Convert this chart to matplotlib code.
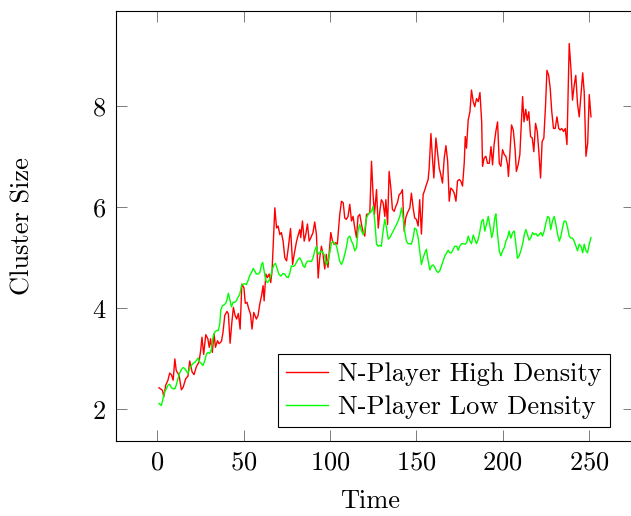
import matplotlib
matplotlib.use("Agg")
import matplotlib.pyplot as plt

plt.rcParams['font.family'] = ['cmr10', 'DejaVu Sans']
plt.rcParams['axes.formatter.use_mathtext'] = True
plt.rcParams['mathtext.fontset'] = 'cm'

# N-Player High Density (red)
high_t = [0.9, 2.9, 3.7, 4.8, 6.1, 7.1, 8.1, 9.1, 10.1, 10.9, 12.5, 13.9, 14.9, 16.4, 17.7, 18.7, 20.1, 21.2, 22.6, 24.1,
          25.1, 25.8, 26.8, 28.0, 29.2, 30.0, 30.8, 31.8, 32.8, 33.6, 34.8, 35.7, 37.1, 38.0, 39.0, 40.3, 41.1, 42.1, 43.1, 44.0,
          45.0, 45.9, 46.9, 47.9, 48.9, 50.1, 50.9, 51.9, 52.9, 53.9, 54.8, 55.8,
          57.3, 58.3, 59.3, 60.3, 61.2, 61.8, 62.8, 63.7, 64.7, 65.6, 66.4, 68.0, 69.0, 69.9, 70.9, 71.8, 72.8, 73.8, 74.8, 75.8,
          77.1, 78.3, 79.2, 80.6, 81.6, 82.5, 83.0, 84.0, 85.0, 85.9, 86.9, 87.9, 88.9, 90.1, 91.1, 92.1, 93.1, 94.0, 95.0, 95.9,
          96.9, 97.8, 98.8, 100.4, 101.4, 102.3, 103.2, 104.2, 105.6, 106.6, 107.6, 108.5, 109.4, 110.4, 111.4, 112.4, 113.3, 114.3,
          115.3, 116.2,
          117.2, 118.2, 119.2, 120.1, 121.1, 122.1, 123.0, 124.0, 124.9, 125.7, 126.9, 127.9, 128.8, 129.7, 130.7, 131.7, 132.3,
          133.3, 134.2, 135.2, 136.1, 137.1, 138.1, 139.0, 140.0, 141.0, 141.9, 142.9, 143.8, 144.8, 146.2, 147.1, 148.1, 149.0,
          150.0, 151.0, 151.9, 152.9, 153.9, 154.9, 155.8, 156.8, 157.4, 158.4, 159.3, 160.1, 161.3, 162.2, 163.2, 164.1, 165.1,
          166.1, 167.1, 168.1, 169.0, 169.9, 170.9, 171.9, 172.9, 173.8, 174.8, 175.7, 176.7, 177.7, 178.3, 179.0, 180.0,
          181.0, 181.9, 182.9, 183.8, 184.8, 185.8, 186.8, 187.8, 188.3, 189.2, 190.2, 191.2, 192.2, 193.2, 194.1, 195.0, 196.0,
          197.0, 198.0, 198.9, 199.9, 200.9, 201.8, 202.8, 203.3, 204.1, 205.1, 206.1, 207.1, 207.9, 208.9, 209.9, 210.9, 211.5,
          212.3, 213.3, 214.2, 215.1, 216.1, 217.1, 218.0, 219.0, 220.0, 220.9, 221.9, 222.8, 223.8, 224.8, 225.6, 226.6, 227.5,
          228.4, 229.4, 230.4, 231.4, 232.4, 233.3, 234.2, 235.2, 236.2, 237.2, 238.0, 238.5, 239.5, 240.4, 241.4, 242.3, 243.3,
          244.3, 245.3, 246.3, 247.2, 248.2, 249.2, 250.1, 251.1]
high_v = [2.43, 2.38, 2.25, 2.48, 2.58, 2.72, 2.69, 2.58, 3.00, 2.77, 2.68, 2.39, 2.44, 2.61, 2.66, 2.96, 2.74, 2.69, 2.85, 2.94,
          3.18, 3.43, 3.09, 3.48, 3.40, 3.23, 3.40, 3.13, 3.50, 3.23, 3.36, 3.30, 3.35, 3.53, 3.86, 3.94, 3.89, 3.31, 3.72, 4.02,
          3.86, 3.79, 3.90, 3.59, 4.48, 4.41, 4.10, 4.12, 3.99, 3.89, 3.59, 3.92,
          3.79, 3.86, 4.09, 4.25, 4.45, 4.15, 4.68, 4.61, 4.68, 4.51, 4.74, 5.99, 5.59, 5.63, 5.46, 5.50, 5.33, 5.00, 4.94, 5.20,
          5.58, 4.87, 5.07, 5.33, 5.46, 5.56, 5.40, 5.73, 5.33, 5.46, 5.67, 5.33, 5.40, 5.50, 5.71, 5.46, 4.60, 5.00, 5.23, 5.07,
          4.78, 5.07, 4.81, 5.50, 5.33, 5.27, 5.30, 5.27, 5.86, 6.12, 6.09, 5.79, 5.76, 5.82, 6.06, 5.73, 5.82, 5.59,
          5.40, 5.82,
          5.86, 5.66, 5.50, 5.43, 5.86, 5.87, 5.89, 6.91, 6.25, 5.86, 6.35, 5.59, 5.92, 6.15, 6.09, 5.82, 6.15,
          5.66, 6.71, 6.38, 5.96, 5.92, 6.02, 6.09, 6.25, 6.28, 6.35, 5.53, 5.79, 5.89, 5.99, 6.28, 5.99, 5.79,
          5.76, 5.63, 6.15, 5.47, 6.25, 6.35, 6.45, 6.55, 6.78, 7.46, 6.97, 6.58, 7.37, 7.10, 6.78, 6.65, 6.48,
          6.97, 7.22, 6.91, 6.12, 6.38, 6.35, 6.28, 6.12, 6.52, 6.55, 6.52, 6.42, 6.88, 7.40, 7.17, 7.73,
          7.89, 8.32, 8.09, 7.99, 8.15, 8.09, 8.27, 7.69, 6.81, 6.97, 7.01, 6.87, 6.87, 7.20, 6.84, 7.24, 7.50,
          7.69, 6.87, 6.81, 7.14, 7.04, 7.01, 6.84, 6.61, 7.04, 7.63, 7.53, 7.17, 6.71, 6.84, 7.04, 7.76, 8.19,
          7.69, 7.94, 7.72, 7.89, 7.40, 7.37, 7.10, 7.66, 7.50, 7.10, 6.58, 7.30, 7.37, 8.02, 8.71, 8.61, 8.35,
          7.89, 7.56, 7.56, 7.79, 7.56, 7.53, 7.56, 7.50, 7.56, 7.24, 8.48, 9.24, 8.74, 8.12, 8.42, 8.61, 8.05,
          7.79, 8.22, 8.66, 8.27, 7.01, 7.27, 8.23, 7.79]

# N-Player Low Density (green)
low_t = [0.9, 2.3, 3.3, 4.2, 5.2, 6.1, 7.1, 8.1, 9.1, 10.1, 10.9, 11.9, 12.9, 13.9, 14.9, 15.8, 16.8, 17.7, 18.7, 19.7,
         20.6, 21.6, 22.6, 23.6, 24.5, 25.4, 26.4, 27.4, 28.4, 29.4, 30.3, 31.2, 32.2, 33.2, 34.2, 35.2, 36.1, 36.7, 37.6, 38.6,
         39.6, 40.3, 41.1, 41.9, 42.9, 43.8, 44.8, 45.7, 46.7, 47.7, 48.7, 49.7, 50.6, 51.5, 52.5, 53.5, 54.5, 55.5,
         56.4, 57.3, 58.3, 59.3, 60.3, 61.0, 61.8, 62.8, 63.7, 64.7, 65.6, 66.6, 67.6, 68.4, 69.4, 70.3, 71.4, 72.8, 73.8, 74.8,
         75.8, 76.6, 77.6, 78.6, 79.6, 80.5, 81.5, 82.5, 83.4, 84.4, 85.3, 86.3, 87.3, 88.3, 89.3, 90.1, 91.1, 92.1, 93.1, 94.0,
         95.0, 95.9, 96.9, 97.8, 98.8, 99.8, 100.8, 101.8, 102.7, 103.6, 104.6, 105.6, 106.6, 107.6, 108.5, 109.4, 110.4, 111.4,
         112.4, 113.3, 114.3, 115.3, 116.2,
         117.2, 118.2, 119.2, 120.1, 121.1, 122.1, 123.0, 124.0, 124.9, 125.9, 126.9, 127.9, 128.8, 129.7, 130.7, 131.7, 132.7,
         133.7, 134.6, 135.5, 136.5, 137.5, 138.5, 139.4, 140.4, 141.4, 142.3, 143.2, 144.2, 145.2, 146.2, 147.1, 148.1, 149.0,
         150.0, 151.0, 151.9, 152.9, 153.9, 154.9, 155.8, 156.8, 157.8, 158.7, 159.7, 160.7, 161.6, 162.6, 163.5, 164.5, 165.5,
         166.5, 167.5, 168.4, 169.3, 170.3, 171.3, 172.3, 173.3, 174.2, 175.1, 176.1, 177.1, 178.1, 179.1, 180.0,
         181.0, 181.9, 182.9, 183.8, 184.8, 185.8, 186.8, 187.8, 188.7, 189.6, 190.6, 191.6, 192.6, 193.6, 194.5, 195.4, 196.0,
         197.0, 198.0, 198.9, 199.9, 200.9, 201.8, 202.8, 203.7, 204.7, 205.7, 206.7, 207.6, 208.5, 209.5, 210.5, 211.5, 212.5,
         213.4, 214.3, 215.3, 216.3, 217.3, 218.2, 219.2, 220.2, 221.1, 222.1, 223.0, 224.0, 225.0, 226.0, 227.0, 227.8, 228.8,
         229.8, 230.8, 231.8, 232.8, 233.7, 234.6, 235.6, 236.6, 237.6, 238.5, 239.5, 240.4, 241.4, 242.4, 243.3, 244.3, 245.3,
         246.3, 247.2, 248.2, 249.1, 250.1, 251.1]
low_v = [2.12, 2.08, 2.22, 2.35, 2.41, 2.48, 2.50, 2.43, 2.41, 2.41, 2.48, 2.61, 2.72, 2.79, 2.83, 2.81, 2.76, 2.71, 2.81, 2.87,
         2.91, 2.93, 2.97, 3.02, 2.94, 2.91, 2.87, 2.96, 3.10, 3.13, 3.11, 3.18, 3.43, 3.53, 3.56, 3.56, 3.69, 3.97, 4.05, 4.07,
         4.10, 4.18, 4.30, 4.18, 4.03, 4.12, 4.12, 4.15, 4.22, 4.28, 4.45, 4.48, 4.49, 4.47, 4.55, 4.65, 4.71, 4.79,
         4.74, 4.68, 4.68, 4.71, 4.87, 4.91, 4.74, 4.55, 4.51, 4.55, 4.64, 4.78, 4.87, 4.89, 4.78, 4.68, 4.64, 4.69, 4.68, 4.62,
         4.61, 4.69, 4.84, 4.83, 4.85, 4.91, 4.97, 5.00, 4.94, 4.84, 4.81, 4.91, 4.94, 4.93, 4.93, 5.00, 5.14, 5.23, 5.07, 5.10,
         5.14, 5.10, 5.04, 4.86, 4.94, 5.10, 5.30, 5.32, 5.27, 5.25, 5.10, 4.93, 4.87, 4.95, 5.07, 5.20, 5.40, 5.43,
         5.33, 5.27, 5.14, 5.20, 5.53,
         5.66, 5.53, 5.46, 5.56, 5.79, 5.86, 5.89, 5.92, 6.02, 5.73, 5.27, 5.23, 5.25, 5.23, 5.53, 5.76, 5.59,
         5.37, 5.40, 5.46, 5.53, 5.59, 5.66, 5.73, 5.82, 5.99, 5.79, 5.53, 5.33, 5.28, 5.28, 5.27, 5.40, 5.59,
         5.56, 5.40, 5.14, 4.87, 5.00, 5.10, 5.17, 4.94, 4.76, 4.84, 4.86, 4.81, 4.74, 4.71, 4.74, 4.84, 4.94,
         5.04, 5.10, 5.15, 5.10, 5.10, 5.17, 5.23, 5.23, 5.15, 5.23, 5.28, 5.28, 5.27, 5.30, 5.43,
         5.33, 5.28, 5.45, 5.37, 5.28, 5.37, 5.53, 5.73, 5.76, 5.53, 5.66, 5.82, 5.63, 5.40, 5.53, 5.79, 5.87,
         5.46, 5.14, 5.04, 5.14, 5.20, 5.33, 5.40, 5.53, 5.39, 5.50, 5.53, 5.27, 4.99, 5.04, 5.14, 5.27, 5.46,
         5.56, 5.46, 5.35, 5.40, 5.50, 5.46, 5.48, 5.43, 5.46, 5.50, 5.43, 5.53, 5.69, 5.82, 5.79, 5.56, 5.73,
         5.82, 5.66, 5.46, 5.33, 5.43, 5.59, 5.73, 5.72, 5.59, 5.43, 5.39, 5.39, 5.33, 5.23, 5.14, 5.27, 5.23,
         5.10, 5.27, 5.14, 5.10, 5.27, 5.40]

x_ticks = [0, 50, 100, 150, 200, 250]
y_ticks = [2, 4, 6, 8]

fig = plt.figure(figsize=(6.31, 5.16), dpi=100)
ax = fig.add_axes([0.1838, 0.1453, 0.8209, 0.834])

ax.plot(high_t, high_v, color='#ff0000', lw=1.0, label='N-Player High Density')
ax.plot(low_t, low_v, color='#00ff00', lw=1.0, label='N-Player Low Density')

ax.set_xlim(-24, 276)
ax.set_ylim(1.376, 9.89)
ax.set_xticks(x_ticks)
ax.set_yticks(y_ticks)
ax.tick_params(direction='in', length=8, width=0.6, color='0.4', labelsize=19, pad=7,
               top=True, right=True)
for s in ax.spines.values():
    s.set_linewidth(0.8)

fig.text(370 / 631, 1 - 501 / 516, 'Time', fontsize=19, ha='center', va='center')
fig.text(23 / 631, 1 - 226 / 516, 'Cluster Size', fontsize=19, rotation=90, ha='center', va='center')

leg = ax.legend(loc='lower right', bbox_to_anchor=(0.9537, 0.0326), borderaxespad=0,
                fontsize=19, fancybox=False, framealpha=1, edgecolor='black',
                handlelength=1.6, handletextpad=0.4, borderpad=0.3, labelspacing=0.35)
leg.get_frame().set_linewidth(0.8)

fig.savefig('out.png', dpi=100)
